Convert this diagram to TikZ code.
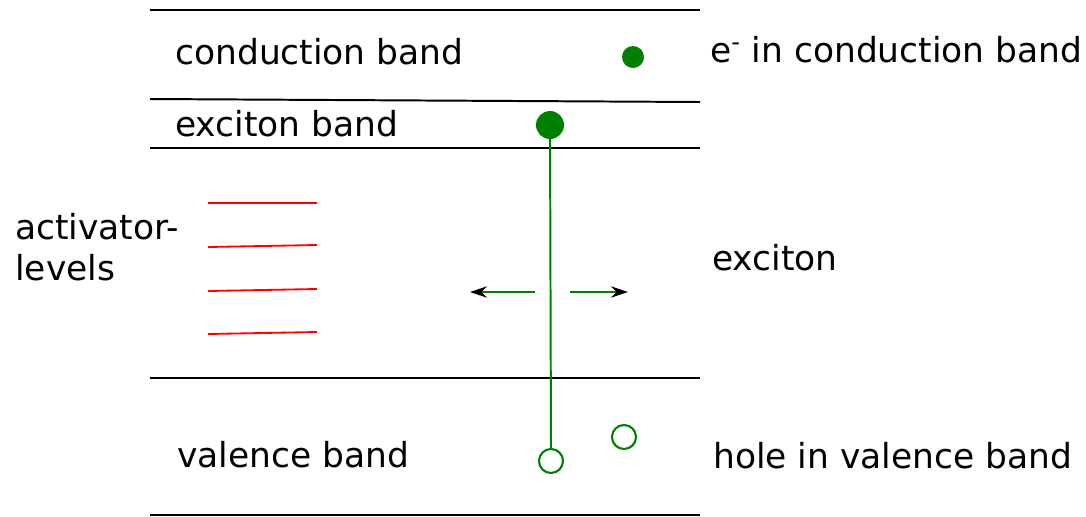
\documentclass[tikz,border=0pt]{standalone}
\usepackage{fontspec}
\setmainfont{DejaVu Sans}
\usetikzlibrary{arrows.meta}
\definecolor{exgreen}{RGB}{0,128,0}

\begin{document}
\begin{tikzpicture}[x=0.025cm,y=-0.025cm,
    every node/.style={font=\fontsize{24.5}{29}\selectfont, anchor=west, inner sep=0pt},
    band/.style={line width=1.4pt},
    level/.style={red, line width=1.3pt},
    particle/.style={circle, anchor=center, exgreen, line width=1.5pt, minimum size=24*0.025cm, inner sep=0pt},
    drift/.style={exgreen, line width=1.4pt, -{Stealth[black, length=12pt, width=8pt]}}]
    \useasboundingbox (0,0) rectangle (1086,516);
    % Bandkanten:
    \draw[band] (150,10) -- (700,10); % oben
    \draw[band] (150,99) -- (700,102); % Leitungsband unten
    \draw[band] (150,148) -- (700,148); % Excitonband unten
    \draw[band] (150,378) -- (700,378); % Valenzband oben
    \draw[line width=0.8pt] (150,515) -- (700,515); % unten
    % Aktivator-Niveaus:
    \draw[level] (208,203) -- (317,203);
    \draw[level] (208,247) -- (317,245);
    \draw[level] (208,291) -- (317,289);
    \draw[level] (208,334) -- (317,332);
    % Texte links:
    \node (cb) at (175,52) {conduction band};
    \node (xb) at (175,124) {exciton band};
    \node[align=left] (act) at (15,247) {activator-\\levels};
    \node (vb) at (177,455) {valence band};
    % Texte rechts:
    \node (ecb) at (710,50) {e\textsuperscript{-} in conduction band};
    \node (exc) at (712,258) {exciton};
    \node (hvb) at (713,456) {hole in valence band};
    % Teilchen:
    \node[particle, fill=exgreen, minimum size=22*0.025cm] (e1) at (633,57) {};
    \node[particle, fill=exgreen, minimum size=28*0.025cm] (e2) at (550,125) {};
    \node[particle, draw] (h2) at (551,461) {};
    \node[particle, draw, minimum size=24*0.025cm] (h1) at (624,437) {};
    \draw[exgreen, line width=1.4pt] (e2.center) -- (h2.north); % Exciton
    % Bewegung:
    \coordinate (lstart) at (535,292);
    \coordinate (lend) at (470,292);
    \coordinate (rstart) at (570,292);
    \coordinate (rend) at (628,292);
    \draw[drift] (lstart) -- (lend);
    \draw[drift] (rstart) -- (rend);
\end{tikzpicture}
\end{document}
